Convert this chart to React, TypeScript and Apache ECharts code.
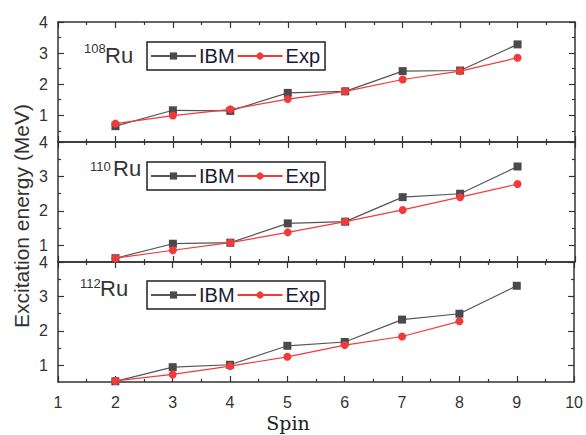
import React, { useEffect, useRef } from "react";
import * as echarts from "echarts";

// ---- data ----
const spins = [2, 3, 4, 5, 6, 7, 8, 9];
const nuclei = ["108", "110", "112"];
const ibm108 = [0.65, 1.16, 1.14, 1.72, 1.77, 2.42, 2.44, 3.28];
const exp108 = [0.73, 0.99, 1.19, 1.52, 1.77, 2.15, 2.42, 2.85];
const ibm110 = [0.63, 1.05, 1.08, 1.64, 1.69, 2.4, 2.5, 3.29];
const exp110 = [0.63, 0.86, 1.08, 1.38, 1.69, 2.03, 2.4, 2.78];
const ibm112 = [0.54, 0.95, 1.02, 1.57, 1.68, 2.33, 2.5, 3.31];
const exp112 = [0.55, 0.74, 0.98, 1.25, 1.59, 1.84, 2.28];
const yMajorTicks = [1, 2, 3, 4];
const yMinorTicks = [0.5, 1.5, 2.5, 3.5];
const panelMins = [0.14, 0.52, 0.52];
const xMin = 1;
const xMax = 10;
const yMax = 4;

const ibmSets = [ibm108, ibm110, ibm112];
const expSets = [exp108, exp110, exp112];

const FONT = "'Liberation Sans', Arial, sans-serif";
const AX = "#333";
const IBM_C = "#4a4a4a";
const EXP_C = "#f23a3a";

export default function App() {
  const ref = useRef<HTMLDivElement>(null);
  useEffect(() => {
    const chart = echarts.init(ref.current!, null, { renderer: "svg" });
    const gridTops = [22, 142, 262];
    const gridH = 120;
    const grids = gridTops.map((t) => ({ left: 58, right: 11, top: t, height: gridH }));
    const xAxes: any[] = [];
    const yAxes: any[] = [];
    const series: any[] = [];
    const legends: any[] = [];
    const graphics: any[] = [];
    const labelPos = [
      { sx: 84, sy: 42, rx: 105, ry: 66 },
      { sx: 90, sy: 160, rx: 113, ry: 179 },
      { sx: 80, sy: 277, rx: 100, ry: 299 },
    ];
    const legendTops = [42, 162, 281];

    grids.forEach((g, gi) => {
      ["bottom", "top"].forEach((pos) => {
        xAxes.push({
          type: "value",
          gridIndex: gi,
          position: pos,
          min: xMin,
          max: xMax,
          interval: 1,
          axisLine: { show: true, onZero: false, lineStyle: { color: AX, width: 1.5 } },
          axisTick: { show: true, inside: true, length: 6, lineStyle: { color: AX, width: 1.2 } },
          minorTick: { show: true, splitNumber: 2, length: 3, lineStyle: { color: AX, width: 1.2 } },
          splitLine: { show: false },
          axisLabel: {
            show: gi === 2 && pos === "bottom",
            color: "#333",
            fontSize: 16,
            fontFamily: FONT,
            margin: 12,
          },
        });
      });
      ["left", "right"].forEach((pos) => {
        [true, false].forEach((major) => {
          yAxes.push({
            type: "value",
            gridIndex: gi,
            position: pos,
            min: panelMins[gi],
            max: yMax,
            axisLine: { show: major, onZero: false, lineStyle: { color: AX, width: 1.5 } },
            axisTick: {
              show: true,
              inside: true,
              length: major ? 6 : 3,
              customValues: major ? yMajorTicks : yMinorTicks.filter((v) => v >= panelMins[gi]),
              lineStyle: { color: AX, width: 1.2 },
            },
            splitLine: { show: false },
            axisLabel: {
              show: major && pos === "left",
              customValues: yMajorTicks,
              color: "#333",
              fontSize: 16,
              fontFamily: FONT,
              margin: 10,
            },
          });
        });
      });
      series.push({
        name: "IBM",
        type: "line",
        xAxisIndex: gi * 2,
        yAxisIndex: gi * 4,
        data: ibmSets[gi].map((v, i) => [spins[i], v]),
        symbol: "rect",
        symbolSize: 8,
        itemStyle: { color: IBM_C },
        lineStyle: { color: "#555", width: 1.2 },
        z: 2,
      });
      series.push({
        name: "Exp",
        type: "line",
        xAxisIndex: gi * 2,
        yAxisIndex: gi * 4,
        data: expSets[gi].map((v, i) => [spins[i], v]),
        symbol: "circle",
        symbolSize: 8,
        itemStyle: { color: EXP_C },
        lineStyle: { color: EXP_C, width: 1.2 },
        z: 3,
      });
      legends.push({
        data: ["IBM", "Exp"],
        left: 147,
        top: legendTops[gi],
        orient: "horizontal",
        itemWidth: 45,
        itemHeight: 9,
        itemGap: 2,
        padding: [4, 5, 4, 3],
        borderColor: "#222",
        borderWidth: 1.5,
        selectedMode: false,
        textStyle: { color: "#1b1b33", fontSize: 20, fontFamily: FONT, padding: [0, 0, 0, -2] },
      });
      const lp = labelPos[gi];
      graphics.push({
        type: "text",
        left: lp.sx,
        top: lp.sy,
        style: { text: nuclei[gi], fontSize: 13, fontFamily: FONT, fill: "#333" },
      });
      graphics.push({
        type: "text",
        x: lp.rx,
        y: lp.ry,
        style: { text: "Ru", fontSize: 22, fontFamily: FONT, fill: "#333", verticalAlign: "bottom", align: "left" },
      });
    });

    graphics.push({
      type: "text",
      x: 21,
      y: 216,
      rotation: Math.PI / 2,
      style: {
        text: "Excitation energy (MeV)",
        fontSize: 21,
        fontFamily: FONT,
        fill: "#333",
        align: "center",
        verticalAlign: "middle",
      },
    });
    graphics.push({
      type: "text",
      x: 288,
      y: 423,
      style: {
        text: "Spin",
        fontSize: 19,
        fontFamily: "'DejaVu Serif', 'Liberation Serif', serif",
        fill: "#222",
        align: "center",
        verticalAlign: "middle",
      },
    });

    chart.setOption({
      animation: false,
      backgroundColor: "#fff",
      grid: grids,
      xAxis: xAxes,
      yAxis: yAxes,
      legend: legends,
      series,
      graphic: graphics,
    });
    return () => chart.dispose();
  }, []);
  return (
    <div
      ref={ref}
      style={{ position: "fixed", left: 0, top: 0, width: 586, height: 435 }}
    />
  );
}
